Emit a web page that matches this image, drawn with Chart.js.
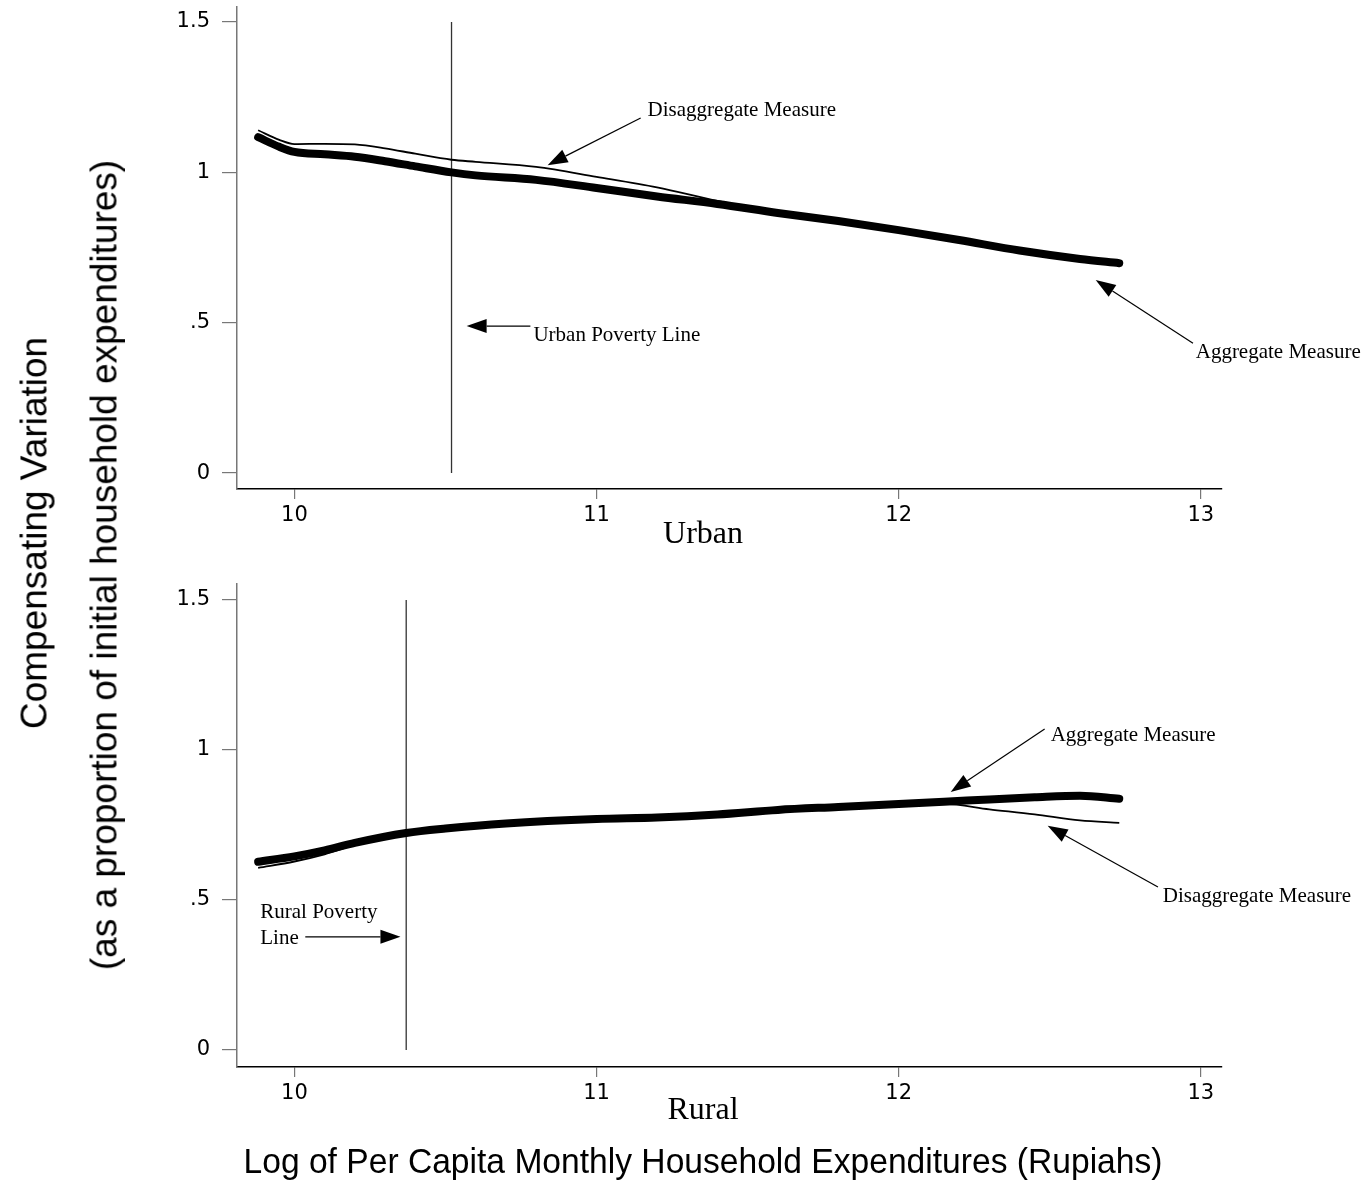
<!DOCTYPE html>
<html>

<head>
    <style>
        body { margin: 0; background: #fff; }
        #page { position: relative; width: 1367px; height: 1185px; overflow: hidden; }
        .box { position: absolute; left: 0; width: 1367px; }
        .lbl { position: absolute; white-space: nowrap; color: #000; line-height: 1; }
        .sans { font-family: "Liberation Sans", Arial, sans-serif; }
        .serif { font-family: "Liberation Serif", "Times New Roman", serif; }
    </style>
</head>
<script src="https://cdn.jsdelivr.net/npm/chart.js@4/dist/chart.umd.min.js"></script>

<body>
    <div id="page">
        <div class="box" style="top:0;height:560px"><canvas id="urbanChart"></canvas></div>
        <div class="box" style="top:560px;height:625px"><canvas id="ruralChart"></canvas></div>

        <div class="lbl serif" style="left:703px;top:532px;font-size:32px;transform:translate(-50%,-50%)">Urban</div>
        <div class="lbl serif" style="left:703px;top:1108px;font-size:32px;transform:translate(-50%,-50%)">Rural</div>

        <div class="lbl sans" style="left:34px;top:533px;font-size:37px;transform:translate(-50%,-50%) rotate(-90deg)">Compensating Variation</div>
        <div class="lbl sans" style="left:104px;top:565px;font-size:37px;transform:translate(-50%,-50%) rotate(-90deg)">(as a proportion of initial household expenditures)</div>
        <div class="lbl sans" style="left:703px;top:1160px;font-size:35px;transform:translate(-50%,-50%) scaleX(0.96)">Log of Per Capita Monthly Household Expenditures (Rupiahs)</div>
    </div>
</body>

<script>
    // log per capita expenditure (x) and compensating variation (y)
    var urbanX = [9.88, 9.95, 10.0, 10.1, 10.2, 10.3, 10.4, 10.52, 10.6, 10.8, 11.0, 11.2, 11.4, 11.6, 11.8, 12.0, 12.2, 12.4, 12.6, 12.73];
    var urbanAggregate = [1.117, 1.085, 1.068, 1.06, 1.052, 1.037, 1.02, 1.0, 0.99, 0.975, 0.948, 0.92, 0.895, 0.865, 0.838, 0.808, 0.775, 0.74, 0.712, 0.698];
    var urbanDisaggregate = [1.14, 1.108, 1.094, 1.095, 1.093, 1.08, 1.062, 1.042, 1.035, 1.018, 0.985, 0.95, 0.905, 0.866, 0.838, 0.808, 0.775, 0.74, 0.712, 0.698];

    var ruralX = [9.88, 10.0, 10.1, 10.2, 10.37, 10.5, 10.7, 11.0, 11.2, 11.4, 11.6, 11.8, 12.0, 12.15, 12.3, 12.45, 12.6, 12.73];
    var ruralAggregate = [0.627, 0.645, 0.665, 0.69, 0.723, 0.738, 0.755, 0.77, 0.775, 0.785, 0.8, 0.81, 0.82, 0.827, 0.835, 0.842, 0.847, 0.837];
    var ruralDisaggregate = [0.607, 0.628, 0.652, 0.683, 0.722, 0.738, 0.755, 0.77, 0.775, 0.785, 0.8, 0.81, 0.82, 0.82, 0.802, 0.785, 0.765, 0.757];

    var urbanPovertyLine = 10.52;
    var ruralPovertyLine = 10.37;
    var povertyLineSpan = [0, 1.5];

    var xTicks = [10, 11, 12, 13];
    var yTicks = [0, 0.5, 1, 1.5];
    var yTickLabels = ["0", ".5", "1", "1.5"];

    function pts(xs, ys) {
        return xs.map(function (v, i) { return { x: v, y: ys[i] }; });
    }

    // arrows + notes, positioned in data units
    var notes = {
        id: "notes",
        afterDatasetsDraw: function (chart, args, opts) {
            var ctx = chart.ctx, sx = chart.scales.x, sy = chart.scales.y;
            ctx.save();
            ctx.fillStyle = "#000";
            ctx.strokeStyle = "#000";
            ctx.lineWidth = 1.2;
            ctx.font = "21px 'Liberation Serif', 'Times New Roman', serif";
            ctx.textBaseline = "middle";
            ctx.textAlign = "left";
            (opts.texts || []).forEach(function (t) {
                ctx.fillText(t.text, sx.getPixelForValue(t.x), sy.getPixelForValue(t.y));
            });
            (opts.arrows || []).forEach(function (a) {
                var x1 = sx.getPixelForValue(a.x1), y1 = sy.getPixelForValue(a.y1);
                var x2 = sx.getPixelForValue(a.x2), y2 = sy.getPixelForValue(a.y2);
                var ang = Math.atan2(y2 - y1, x2 - x1);
                var hl = 20, hw = 7;
                var bx = x2 - hl * Math.cos(ang), by = y2 - hl * Math.sin(ang);
                ctx.beginPath();
                ctx.moveTo(x1, y1);
                ctx.lineTo(bx, by);
                ctx.stroke();
                ctx.beginPath();
                ctx.moveTo(x2, y2);
                ctx.lineTo(bx + hw * Math.sin(ang), by - hw * Math.cos(ang));
                ctx.lineTo(bx - hw * Math.sin(ang), by + hw * Math.cos(ang));
                ctx.closePath();
                ctx.fill();
            });
            ctx.restore();
        }
    };

    function makeChart(id, xs, agg, dis, pov, pad, yMin, yMax, xHeight, noteOpts) {
        return new Chart(document.getElementById(id), {
            type: "line",
            data: {
                datasets: [
                    {
                        label: "Aggregate Measure",
                        data: pts(xs, agg),
                        borderColor: "#000",
                        borderWidth: 8,
                        borderCapStyle: "round",
                        borderJoinStyle: "round",
                        cubicInterpolationMode: "monotone",
                        pointRadius: 0,
                        order: 0
                    },
                    {
                        label: "Disaggregate Measure",
                        data: pts(xs, dis),
                        borderColor: "#000",
                        borderWidth: 1.8,
                        cubicInterpolationMode: "monotone",
                        pointRadius: 0,
                        order: 1
                    },
                    {
                        label: "Poverty Line",
                        data: povertyLineSpan.map(function (v) { return { x: pov, y: v }; }),
                        borderColor: "#333",
                        borderWidth: 1.3,
                        pointRadius: 0,
                        order: 2
                    }
                ]
            },
            options: {
                responsive: true,
                maintainAspectRatio: false,
                animation: false,
                layout: { padding: { left: 0, right: 145, top: pad, bottom: 0 } },
                plugins: { legend: { display: false }, tooltip: { enabled: false }, notes: noteOpts },
                scales: {
                    x: {
                        type: "linear",
                        min: 9.81,
                        max: 13.07,
                        afterBuildTicks: function (s) { s.ticks = xTicks.map(function (v) { return { value: v }; }); },
                        afterFit: function (s) { s.height = xHeight; s.paddingLeft = 0; s.paddingRight = 0; },
                        grid: { drawOnChartArea: false, drawTicks: true, tickLength: 10, color: "#777", lineWidth: 1.2 },
                        border: { display: true, color: "#000", width: 1.5 },
                        ticks: { color: "#000", padding: 4, maxRotation: 0, font: { family: "'DejaVu Sans'", size: 21 } }
                    },
                    y: {
                        min: yMin,
                        max: yMax,
                        afterBuildTicks: function (s) { s.ticks = yTicks.map(function (v) { return { value: v }; }); },
                        afterFit: function (s) { s.width = 237; s.paddingTop = 0; s.paddingBottom = 0; },
                        grid: { drawOnChartArea: false, drawTicks: true, tickLength: 15, color: "#777", lineWidth: 1.2 },
                        border: { display: true, color: "#777", width: 1.5 },
                        ticks: {
                            color: "#000",
                            padding: 12,
                            font: { family: "'DejaVu Sans'", size: 21 },
                            callback: function (v) { return yTickLabels[yTicks.indexOf(v)]; }
                        }
                    }
                }
            },
            plugins: [notes]
        });
    }

    makeChart("urbanChart", urbanX, urbanAggregate, urbanDisaggregate, urbanPovertyLine, 7, -0.053, 1.55, 71, {
        texts: [
            { text: "Disaggregate Measure", x: 11.169, y: 1.207 },
            { text: "Urban Poverty Line", x: 10.791, y: 0.456 },
            { text: "Aggregate Measure", x: 12.983, y: 0.402 }
        ],
        arrows: [
            { x1: 11.146, y1: 1.181, x2: 10.838, y2: 1.024 },
            { x1: 10.781, y1: 0.489, x2: 10.570, y2: 0.489 },
            { x1: 12.974, y1: 0.432, x2: 12.652, y2: 0.642 }
        ]
    });

    makeChart("ruralChart", ruralX, ruralAggregate, ruralDisaggregate, ruralPovertyLine, 24, -0.057, 1.553, 118, {
        texts: [
            { text: "Aggregate Measure", x: 12.503, y: 1.047 },
            { text: "Disaggregate Measure", x: 12.874, y: 0.513 },
            { text: "Rural Poverty", x: 9.887, y: 0.457 },
            { text: "Line", x: 9.887, y: 0.37 }
        ],
        arrows: [
            { x1: 12.483, y1: 1.07, x2: 12.172, y2: 0.86 },
            { x1: 12.858, y1: 0.543, x2: 12.493, y2: 0.747 },
            { x1: 10.036, y1: 0.377, x2: 10.351, y2: 0.377 }
        ]
    });
</script>

</html>
